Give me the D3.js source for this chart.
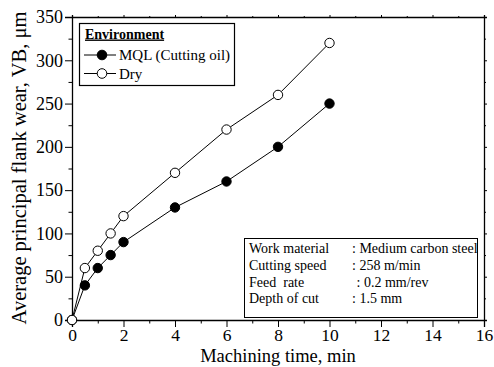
<!DOCTYPE html>
<html>
<head>
<meta charset="utf-8">
<script src="https://cdn.jsdelivr.net/npm/d3@7"></script>
<style>
  html, body { margin: 0; padding: 0; background: #fff; }
  svg text { font-family: "Liberation Serif", "Times New Roman", Tinos, serif !important; fill: #000; }
</style>
</head>
<body>
<svg id="chart" width="494" height="367"></svg>
<script>
// Flank wear vs. machining time for two cutting environments
const timeMin = [0, 0.5, 1, 1.5, 2, 4, 6, 8, 10];
const wearMQL = [0, 40, 60, 75, 90, 130, 160, 200, 250];
const wearDry = [0, 60, 80, 100, 120, 170, 220, 260, 320];
const xTicks = [0, 2, 4, 6, 8, 10, 12, 14, 16];
const yTicks = [0, 50, 100, 150, 200, 250, 300, 350];
const seriesNames = ["MQL (Cutting oil)", "Dry"];
const conditionLabels = ["Work material", "Cutting speed", "Feed  rate", "Depth of cut"];
const conditionValues = [": Medium carbon steel", ": 258 m/min", ": 0.2 mm/rev", ": 1.5 mm"];

const FONT = '"Liberation Serif", "Times New Roman", Tinos, serif';
const svg = d3.select("#chart");
const m = { left: 72, top: 17, right: 484, bottom: 320 };

const x = d3.scaleLinear().domain([0, 16]).range([m.left, m.right]);
const y = d3.scaleLinear().domain([0, 350]).range([m.bottom, m.top]);

const minorX = d3.range(1, 16, 2);
const minorY = d3.range(25, 350, 50);

// Axes: major ticks with labels, minor ticks between
function drawAxis(axisFn, scale, ticks, minor, transform, labels, majorLen, minorLen, pad, fs) {
  const g = svg.append("g").attr("transform", transform);
  g.call(axisFn(scale).tickValues(ticks).tickSize(majorLen).tickPadding(pad)
    .tickFormat(labels ? d3.format("d") : () => ""));
  const mg = g.append("g")
    .call(axisFn(scale).tickValues(minor).tickSize(minorLen).tickFormat(() => ""));
  mg.select(".domain").remove();
  g.select(".domain").attr("stroke", "#000").attr("stroke-width", 1.3);
  g.selectAll(".tick line").attr("stroke", "#000").attr("stroke-width", 1);
  g.selectAll("text").attr("font-family", FONT).attr("font-size", fs);
  return g;
}
drawAxis(d3.axisBottom, x, xTicks, minorX, `translate(0,${m.bottom})`, true, 7, 3.5, 2, 17.5);
drawAxis(d3.axisTop, x, xTicks, minorX, `translate(0,${m.top})`, false, 2, 1, 2, 17.5);
drawAxis(d3.axisLeft, y, yTicks, minorY, `translate(${m.left},0)`, true, 7, 3.5, 2, 18);
drawAxis(d3.axisRight, y, yTicks, minorY, `translate(${m.right},0)`, false, 3, 2, 2, 18);

// Axis titles
svg.append("text")
  .attr("x", 278).attr("y", 362)
  .attr("text-anchor", "middle").attr("font-size", 18.5)
  .text("Machining time, min");
svg.append("text")
  .attr("transform", `translate(26,168) rotate(-90)`)
  .attr("text-anchor", "middle").attr("font-size", 20.5)
  .text("Average principal flank wear, VB, μm");

// Series lines and markers
const line = d3.line().x((d, i) => x(timeMin[i])).y(d => y(d));
const series = [
  { values: wearMQL, fill: "#000" },
  { values: wearDry, fill: "#fff" }
];
series.forEach(s => {
  svg.append("path").attr("d", line(s.values))
    .attr("fill", "none").attr("stroke", "#000").attr("stroke-width", 1);
});
series.forEach(s => {
  svg.append("g").selectAll("circle").data(s.values).join("circle")
    .attr("cx", (d, i) => x(timeMin[i])).attr("cy", d => y(d))
    .attr("r", 4.7).attr("fill", s.fill).attr("stroke", "#000").attr("stroke-width", 1);
});

// Legend
const lg = svg.append("g");
lg.append("rect").attr("x", 79.5).attr("y", 23.5).attr("width", 155).attr("height", 62)
  .attr("fill", "#fff").attr("stroke", "#000").attr("stroke-width", 1.2);
lg.append("text").attr("x", 85).attr("y", 38.5).attr("font-size", 14)
  .attr("font-weight", "bold").attr("text-decoration", "underline").text("Environment");
series.forEach((s, i) => {
  const yy = 55 + i * 18.5;
  lg.append("line").attr("x1", 84).attr("x2", 116).attr("y1", yy).attr("y2", yy)
    .attr("stroke", "#000").attr("stroke-width", 1);
  lg.append("circle").attr("cx", 102).attr("cy", yy).attr("r", 4.8)
    .attr("fill", s.fill).attr("stroke", "#000");
  lg.append("text").attr("x", 119).attr("y", yy + 5.2).attr("font-size", 15)
    .text(seriesNames[i]);
});

// Cutting-conditions box
const cb = svg.append("g");
cb.append("rect").attr("x", 244.5).attr("y", 238.5).attr("width", 233).attr("height", 79)
  .attr("fill", "#fff").attr("stroke", "#000").attr("stroke-width", 1);
conditionLabels.forEach((lab, i) => {
  const yy = 253 + i * 16.8;
  const colonX = i === 2 ? 356.5 : 352;
  cb.append("text").attr("x", 249).attr("y", yy).attr("font-size", 14)
    .attr("xml:space", "preserve").style("white-space", "pre").text(lab);
  cb.append("text").attr("x", colonX).attr("y", yy).attr("font-size", 14)
    .text(conditionValues[i]);
});
</script>
</body>
</html>
